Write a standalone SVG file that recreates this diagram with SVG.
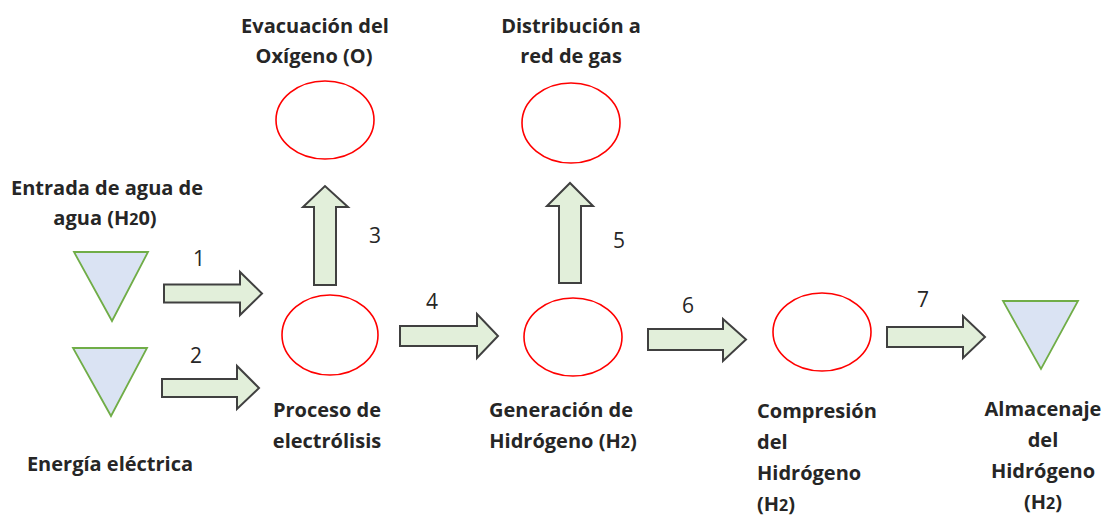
<svg xmlns="http://www.w3.org/2000/svg" width="1102" height="516" viewBox="0 0 1102 516">
<style>
  .lbl { font-family: "Open Sans", "Liberation Sans", sans-serif; font-weight: bold; font-size: 20px; fill: #262626; }
  .num { font-family: "Open Sans", "Liberation Sans", sans-serif; font-size: 21px; fill: #262626; text-anchor: middle; }
  .c { text-anchor: middle; }
  .proc { fill: #ffffff; stroke: #ff0000; stroke-width: 1.6; }
  .tank { fill: #dae3f3; stroke: #70ad47; stroke-width: 1.8; stroke-linejoin: miter; }
  .arr { fill: #e2efda; stroke: #404040; stroke-width: 2; stroke-linejoin: miter; }
  .sub { font-size: 16px; }
</style>
<rect width="1102" height="516" fill="#ffffff"/>

<g id="connectors">
  <polygon class="arr" points="164,284.5 240,284.5 240,272 262,293.5 240,315 240,302.5 164,302.5"/>
  <polygon class="arr" points="162,379 237,379 237,366 259,388 237,409 237,397 162,397"/>
  <polygon class="arr" points="314,285 314,207 303,207 325,186 348,207 336,207 336,285"/>
  <polygon class="arr" points="400,326 477,326 477,314 498,336 477,358 477,346 400,346"/>
  <polygon class="arr" points="559,283 559,206 547,206 570,183 593,206 581,206 581,283"/>
  <polygon class="arr" points="648,329 723,329 723,319 746,339.5 723,361 723,350 648,350"/>
  <polygon class="arr" points="887,327 963,327 963,316 985,337 963,358 963,347 887,347"/>
  <text class="num" x="199" y="266">1</text>
  <text class="num" x="196" y="363">2</text>
  <text class="num" x="375" y="243">3</text>
  <text class="num" x="432" y="309">4</text>
  <text class="num" x="619" y="248">5</text>
  <text class="num" x="688" y="313">6</text>
  <text class="num" x="923" y="307">7</text>
</g>

<g id="entrada-agua">
  <polygon class="tank" points="74,252 148,252 112,321"/>
  <text class="lbl c" x="107" y="195">Entrada de agua de</text>
  <text class="lbl c" x="105" y="225">agua (H<tspan class="sub">2</tspan>0)</text>
</g>

<g id="energia-electrica">
  <polygon class="tank" points="73,348 147,348 111,416"/>
  <text class="lbl c" x="110" y="471">Energía eléctrica</text>
</g>

<g id="proceso-electrolisis">
  <ellipse class="proc" cx="330" cy="335" rx="48" ry="40"/>
  <text class="lbl c" x="327" y="417">Proceso de</text>
  <text class="lbl c" x="327" y="448">electrólisis</text>
</g>

<g id="evacuacion-oxigeno">
  <ellipse class="proc" cx="325" cy="120" rx="49" ry="39"/>
  <text class="lbl c" x="315" y="33">Evacuación del</text>
  <text class="lbl c" x="314" y="63">Oxígeno (O)</text>
</g>

<g id="generacion-hidrogeno">
  <ellipse class="proc" cx="573" cy="337" rx="49" ry="39"/>
  <text class="lbl c" x="561" y="417">Generación de</text>
  <text class="lbl c" x="563" y="448">Hidrógeno (H<tspan class="sub">2</tspan>)</text>
</g>

<g id="distribucion-red">
  <ellipse class="proc" cx="571" cy="123" rx="49" ry="40"/>
  <text class="lbl c" x="571" y="33">Distribución a</text>
  <text class="lbl c" x="571" y="63">red de gas</text>
</g>

<g id="compresion-hidrogeno">
  <ellipse class="proc" cx="822" cy="332" rx="49" ry="39"/>
  <text class="lbl" x="757" y="418">Compresión</text>
  <text class="lbl" x="757" y="449">del</text>
  <text class="lbl" x="757" y="480">Hidrógeno</text>
  <text class="lbl" x="757" y="511">(H<tspan class="sub">2</tspan>)</text>
</g>

<g id="almacenaje-hidrogeno">
  <polygon class="tank" points="1003,301 1078,301 1041,369"/>
  <text class="lbl c" x="1043" y="416">Almacenaje</text>
  <text class="lbl c" x="1043" y="447">del</text>
  <text class="lbl c" x="1043" y="478">Hidrógeno</text>
  <text class="lbl c" x="1043" y="509">(H<tspan class="sub">2</tspan>)</text>
</g>
</svg>
